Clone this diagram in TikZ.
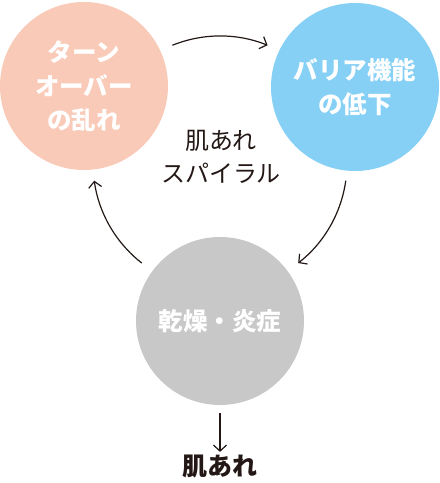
\documentclass[tikz,border=0pt]{standalone}
\usepackage{fontspec}
\setmainfont{Noto Sans CJK JP}
\usetikzlibrary{arrows.meta}
\definecolor{pinkc}{RGB}{249,202,183}
\definecolor{bluec}{RGB}{134,208,246}
\definecolor{grayc}{RGB}{200,200,200}
\definecolor{inkc}{RGB}{35,24,21}
\tikzset{
  bubble/.style={circle,minimum size=168pt,inner sep=0pt,text=white,align=center,
    font=\fontsize{24.5}{34}\selectfont\bfseries},
  cyc/.style={draw=inkc,line width=1.2pt,-{Straight Barb[length=6pt,width=13pt,line width=1.2pt]}},
  label/.style={text=inkc,align=center,font=\fontsize{24}{33}\selectfont}
}
\begin{document}
\begin{tikzpicture}[x=1pt,y=1pt]
\useasboundingbox (0,0) rectangle (440,483);
\node[bubble,fill=pinkc] (turn) at (84,397) {ターン\\オーバー\\の乱れ};
\node[bubble,fill=bluec] (barr) at (355,396) {バリア機能\\の低下};
\node[bubble,fill=grayc] (dry) at (220,162) {乾燥・炎症};
\node[label] (spiral) at (221,326) {肌あれ\\スパイラル};
\coordinate (ctr) at (220,320);
\draw[cyc] ([shift={(112:127)}]ctr) arc[start angle=112,end angle=68,radius=127];
\draw[cyc] ([shift={(-8:127)}]ctr) arc[start angle=-8,end angle=-52,radius=127];
\draw[cyc] ([shift={(-128:127)}]ctr) arc[start angle=-128,end angle=-172,radius=127];
\node[text=inkc,font=\fontsize{25}{30}\selectfont\bfseries] (skin) at (220,16) {肌あれ};
\draw[cyc] ([yshift=-8pt]dry.south) -- (skin.north);
\end{tikzpicture}
\end{document}
